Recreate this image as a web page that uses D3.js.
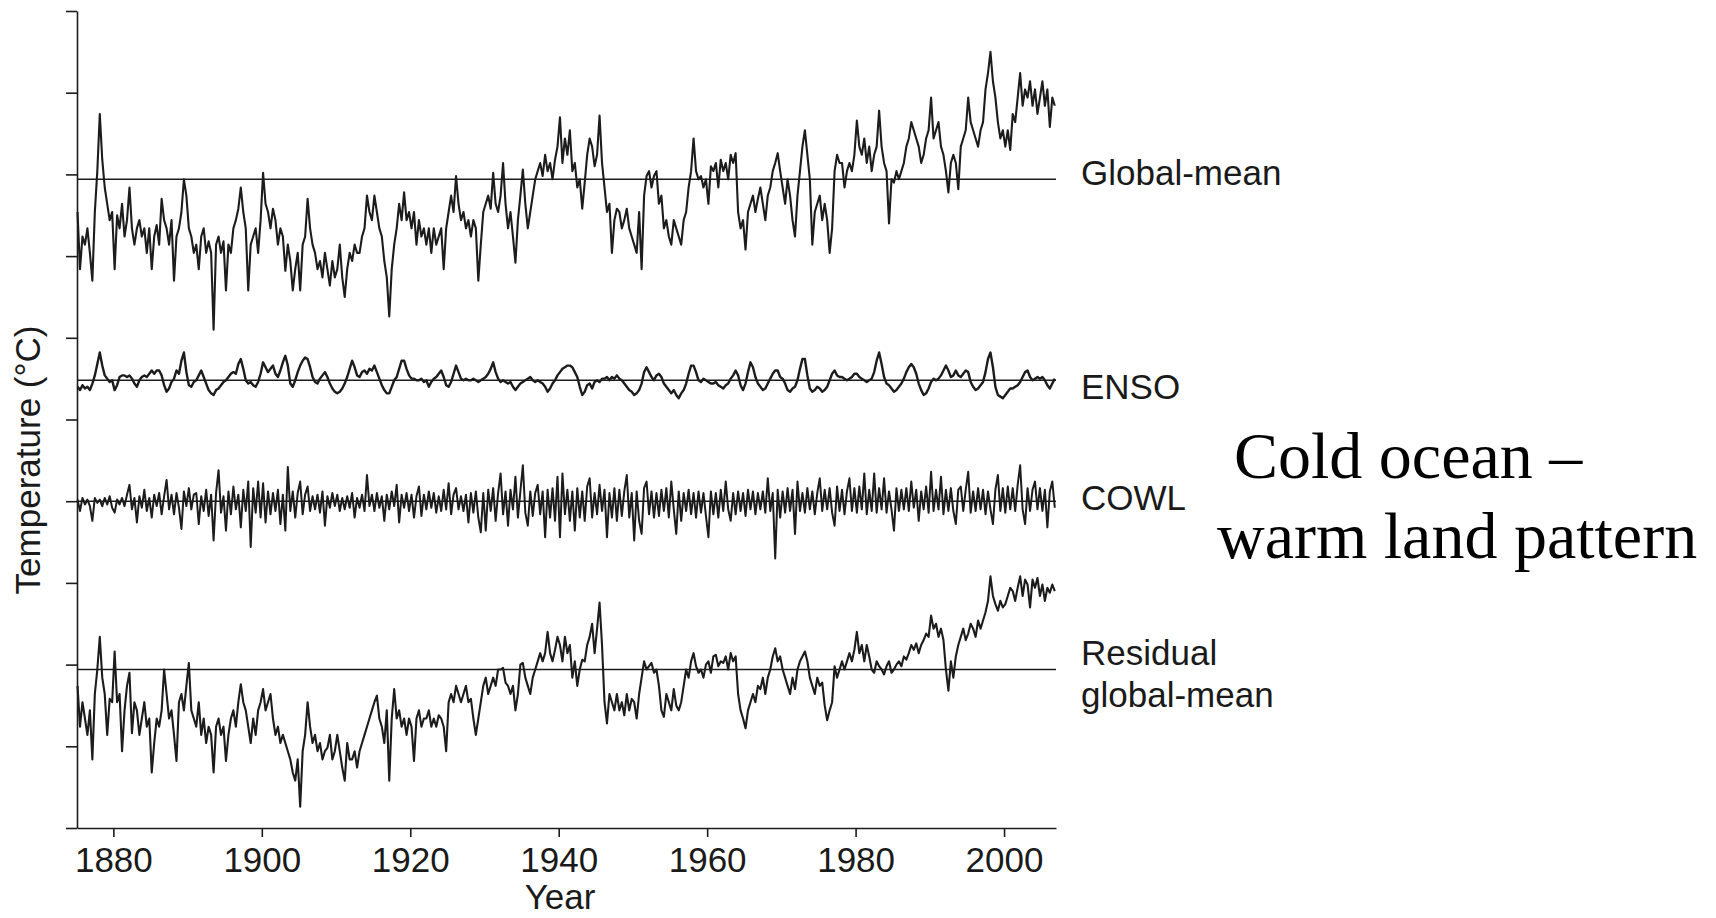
<!DOCTYPE html>
<html><head><meta charset="utf-8">
<script src="https://cdn.jsdelivr.net/npm/d3@7"></script>
<style>body{margin:0;background:#fff}svg{display:block}</style>
</head><body>
<svg id="chart" width="1716" height="918"></svg>
<script>
// x-axis tick labels (years)
const yearTicks = [1880, 1900, 1920, 1940, 1960, 1980, 2000];
// y-axis ticks (unlabelled), °C
const tempTicks = [0, 0.5, 1, 1.5, 2, 2.5, 3, 3.5, 4, 4.5, 5];
const seriesNames = ["Global-mean", "ENSO", "COWL", "Residual|global-mean"];
const startYear = 1875.17;   // first sample
const samplesPerYear = 3;
// vertical offset (°C) of each series' zero line
const seriesOffsets = [3.97, 2.74, 2.0, 0.97];

// anomalies (°C), 3 samples per year, 1875–2006
const globalMean = [
-0.20,-0.55,-0.35,-0.40,-0.30,-0.45,-0.62,-0.20,0.05,0.40,0.12,-0.05,-0.15,-0.25,-0.20,
-0.55,-0.22,-0.30,-0.15,-0.35,-0.25,-0.05,-0.30,-0.40,-0.30,-0.25,-0.35,-0.30,-0.45,-0.30,
-0.55,-0.35,-0.28,-0.40,-0.12,-0.25,-0.30,-0.40,-0.25,-0.62,-0.35,-0.30,-0.20,0.00,-0.10,
-0.30,-0.35,-0.45,-0.40,-0.55,-0.35,-0.30,-0.45,-0.38,-0.45,-0.92,-0.40,-0.35,-0.45,-0.38,
-0.68,-0.40,-0.45,-0.30,-0.25,-0.18,-0.05,-0.20,-0.30,-0.68,-0.40,-0.35,-0.30,-0.45,-0.25,
0.04,-0.15,-0.20,-0.30,-0.18,-0.25,-0.40,-0.30,-0.35,-0.56,-0.40,-0.50,-0.68,-0.55,-0.45,
-0.68,-0.40,-0.35,-0.12,-0.30,-0.40,-0.45,-0.55,-0.50,-0.60,-0.45,-0.55,-0.65,-0.50,-0.60,
-0.55,-0.40,-0.60,-0.72,-0.55,-0.45,-0.50,-0.40,-0.45,-0.45,-0.35,-0.30,-0.10,-0.20,-0.25,
-0.10,-0.20,-0.30,-0.35,-0.50,-0.60,-0.84,-0.55,-0.40,-0.30,-0.15,-0.25,-0.08,-0.25,-0.20,
-0.30,-0.20,-0.40,-0.25,-0.35,-0.30,-0.40,-0.30,-0.45,-0.30,-0.40,-0.35,-0.30,-0.55,-0.30,
-0.20,-0.10,-0.20,0.02,-0.15,-0.25,-0.20,-0.30,-0.25,-0.35,-0.25,-0.30,-0.62,-0.40,-0.20,
-0.15,-0.10,-0.18,0.04,-0.15,-0.20,-0.10,0.10,-0.15,-0.30,-0.20,-0.35,-0.51,-0.25,-0.10,
0.06,-0.15,-0.30,-0.20,-0.10,0.00,0.05,0.10,0.02,0.15,0.05,0.10,0.00,0.12,0.20,
0.38,0.10,0.25,0.15,0.30,0.05,0.10,-0.05,0.00,-0.18,-0.02,0.15,0.25,0.20,0.08,
0.15,0.39,0.10,-0.05,-0.20,-0.15,-0.45,-0.25,-0.18,-0.20,-0.30,-0.25,-0.18,-0.30,-0.35,
-0.40,-0.45,-0.20,-0.55,-0.10,0.02,0.05,-0.05,0.02,0.05,-0.15,-0.10,-0.30,-0.25,-0.35,
-0.40,-0.25,-0.30,-0.35,-0.40,-0.25,-0.20,-0.05,0.05,0.25,0.05,0.00,0.02,-0.05,0.00,
-0.15,0.08,0.05,0.10,-0.05,0.12,0.05,0.10,0.00,0.15,0.10,0.16,-0.20,-0.30,-0.25,
-0.43,-0.20,-0.15,-0.10,-0.20,-0.12,-0.05,-0.15,-0.25,-0.10,-0.05,0.05,0.10,0.16,0.05,
-0.05,-0.15,0.00,-0.10,-0.25,-0.35,-0.10,0.05,0.20,0.30,0.15,0.00,-0.40,-0.20,-0.15,
-0.10,-0.25,-0.15,-0.25,-0.45,-0.30,0.05,0.15,0.10,0.10,-0.05,0.05,0.10,0.05,0.15,
0.36,0.20,0.15,0.25,0.10,0.20,0.05,0.15,0.20,0.42,0.20,0.10,0.05,-0.27,0.00,
-0.02,0.05,0.00,0.05,0.10,0.20,0.25,0.35,0.30,0.25,0.20,0.10,0.15,0.25,0.30,
0.50,0.25,0.30,0.35,0.20,0.15,0.05,-0.08,0.10,0.15,0.10,-0.06,0.20,0.25,0.30,
0.50,0.35,0.30,0.25,0.20,0.30,0.35,0.55,0.65,0.78,0.60,0.50,0.35,0.25,0.30,
0.20,0.30,0.18,0.40,0.35,0.50,0.65,0.45,0.55,0.50,0.60,0.45,0.55,0.40,0.50,
0.60,0.45,0.55,0.32,0.50,0.45
];

const enso = [
-0.04,-0.06,-0.03,-0.05,-0.04,-0.06,-0.02,0.03,0.10,0.17,0.09,0.03,0.01,-0.01,0.00,
-0.06,-0.03,0.02,0.03,0.03,0.02,0.03,0.01,-0.02,-0.04,0.00,0.02,0.03,0.02,0.04,
0.06,0.04,0.06,0.06,0.03,-0.03,-0.07,-0.05,-0.01,0.01,0.06,0.04,0.12,0.17,0.05,
-0.03,-0.04,-0.01,0.00,0.03,0.06,0.02,-0.02,-0.06,-0.08,-0.09,-0.06,-0.05,-0.03,-0.01,
0.00,0.02,0.04,0.05,0.04,0.10,0.13,0.07,0.00,-0.02,-0.01,-0.03,-0.04,-0.01,0.04,
0.11,0.08,0.05,0.07,0.09,0.04,0.02,0.06,0.11,0.15,0.09,-0.02,-0.04,0.00,0.05,
0.09,0.12,0.14,0.13,0.08,0.02,-0.01,-0.02,0.01,0.03,0.05,0.02,-0.02,-0.05,-0.07,
-0.08,-0.07,-0.05,-0.02,0.02,0.07,0.12,0.08,0.03,0.02,0.05,0.06,0.04,0.07,0.06,
0.09,0.05,0.01,-0.03,-0.06,-0.08,-0.08,-0.04,0.00,0.02,0.07,0.12,0.12,0.07,0.03,
0.01,0.01,0.00,0.00,0.01,-0.01,0.00,-0.04,-0.01,0.01,0.02,0.04,0.06,0.02,-0.03,
-0.04,-0.01,0.04,0.09,0.05,0.01,0.00,0.01,0.00,0.00,0.01,0.00,-0.01,0.00,0.01,
0.02,0.04,0.07,0.11,0.05,0.01,-0.01,0.00,-0.01,-0.02,-0.01,-0.04,-0.06,-0.04,-0.02,
-0.01,0.00,0.01,0.02,0.00,-0.01,0.00,-0.01,-0.02,-0.04,-0.07,-0.05,-0.02,0.00,0.03,
0.05,0.07,0.08,0.09,0.09,0.08,0.05,0.02,-0.04,-0.09,-0.07,-0.03,-0.02,-0.05,-0.01,
0.00,-0.01,0.01,0.01,0.02,0.00,0.02,0.01,0.03,0.01,0.00,-0.02,-0.04,-0.06,-0.07,
-0.09,-0.08,-0.06,-0.02,0.05,0.08,0.05,0.02,0.00,0.03,0.04,0.02,-0.02,-0.04,-0.06,
-0.08,-0.06,-0.09,-0.11,-0.08,-0.06,-0.02,0.04,0.09,0.09,0.05,0.00,-0.01,0.01,0.00,
-0.01,-0.02,-0.02,-0.01,-0.03,-0.04,-0.05,-0.03,-0.02,0.01,0.03,0.06,0.03,-0.03,-0.06,
-0.02,0.05,0.11,0.08,0.02,-0.02,-0.04,-0.06,-0.05,-0.02,0.01,0.04,0.06,0.06,0.02,
0.01,-0.02,-0.06,-0.07,-0.05,-0.04,0.00,0.07,0.13,0.13,0.03,-0.05,-0.07,-0.06,-0.04,
-0.05,-0.07,-0.06,-0.04,0.00,0.04,0.06,0.03,0.02,0.02,0.01,0.00,0.01,0.02,0.04,
0.04,0.02,0.01,0.00,-0.01,0.00,0.01,0.05,0.12,0.17,0.10,0.02,-0.02,-0.03,-0.05,
-0.07,-0.06,-0.04,-0.02,0.01,0.05,0.08,0.10,0.08,0.04,-0.02,-0.06,-0.09,-0.08,-0.05,
-0.01,0.01,0.00,0.01,0.03,0.06,0.09,0.06,0.02,0.03,0.06,0.03,0.02,0.04,0.06,
0.05,-0.01,-0.04,-0.06,-0.05,-0.03,-0.01,0.05,0.13,0.17,0.08,-0.04,-0.09,-0.10,-0.11,
-0.09,-0.07,-0.05,-0.05,-0.04,-0.03,-0.01,0.02,0.05,0.06,0.02,0.00,0.01,0.02,0.01,
0.02,0.00,-0.03,-0.05,-0.02,0.01
];

const cowl = [
0.01,-0.06,0.02,-0.02,0.01,-0.03,-0.12,0.02,-0.01,0.01,-0.03,0.02,-0.02,0.03,-0.04,
-0.07,0.01,-0.02,0.02,-0.03,0.04,0.10,-0.05,0.02,-0.13,0.03,-0.04,0.07,-0.06,0.02,
-0.10,0.04,-0.03,0.05,-0.08,0.03,0.13,-0.05,0.04,-0.08,0.05,-0.04,-0.17,0.06,-0.03,
0.08,-0.05,0.04,0.05,-0.14,0.03,-0.06,0.07,-0.09,0.04,-0.24,0.05,0.19,-0.07,0.03,
-0.18,0.06,-0.08,0.09,-0.05,0.04,-0.16,0.07,-0.06,0.12,-0.28,0.08,-0.07,0.12,-0.10,
0.11,-0.13,0.06,-0.08,0.05,-0.06,0.07,-0.14,0.04,-0.18,0.21,-0.06,0.06,-0.10,0.05,
0.12,-0.08,0.04,0.09,-0.06,0.03,-0.05,0.04,-0.07,0.06,-0.15,0.03,-0.04,0.05,-0.03,
0.04,-0.06,0.02,-0.05,0.03,-0.04,0.05,-0.10,0.02,-0.04,0.04,-0.06,0.16,-0.03,0.04,
-0.06,0.05,-0.04,0.03,-0.12,0.04,-0.05,0.06,-0.03,0.10,-0.13,0.04,-0.04,0.05,-0.06,
0.04,-0.10,0.03,0.09,-0.09,0.04,-0.05,0.06,-0.04,0.05,-0.07,0.03,-0.06,0.07,-0.05,
0.11,-0.08,0.04,0.08,-0.05,0.03,-0.06,0.04,-0.13,0.05,-0.07,0.06,-0.10,-0.19,0.05,
-0.18,0.07,-0.06,0.08,-0.12,0.05,0.17,-0.08,0.06,-0.15,0.07,-0.05,0.15,-0.10,0.06,
0.22,-0.07,-0.15,0.06,-0.09,0.05,0.10,-0.08,0.06,-0.22,0.07,-0.10,0.08,-0.12,0.15,
-0.22,0.17,-0.08,0.07,-0.12,0.06,-0.18,0.08,-0.10,0.06,-0.12,0.09,0.14,-0.10,0.05,
-0.08,0.10,-0.06,0.07,-0.22,0.05,-0.10,0.08,-0.12,0.07,-0.09,0.06,0.16,-0.10,0.05,
-0.24,0.06,-0.12,-0.20,0.08,0.12,-0.08,0.06,-0.10,0.05,-0.09,0.07,-0.06,0.08,-0.10,
0.12,-0.05,-0.20,0.06,-0.12,0.05,-0.06,0.07,-0.08,0.05,-0.10,0.06,-0.07,0.05,-0.09,
-0.22,0.06,-0.08,0.05,-0.10,0.07,-0.06,0.12,-0.05,-0.12,0.05,-0.08,0.06,-0.06,0.05,
-0.09,0.07,-0.05,0.06,-0.08,0.05,-0.05,0.06,-0.07,0.14,-0.06,0.05,-0.35,0.07,-0.10,
0.06,-0.07,0.08,-0.06,0.07,-0.20,0.12,-0.06,0.05,-0.07,0.08,-0.05,0.06,-0.08,0.05,
0.14,-0.06,0.07,-0.05,0.08,-0.07,-0.15,0.09,-0.06,0.07,-0.08,0.06,0.14,-0.06,0.08,
-0.07,0.09,-0.05,0.17,-0.08,0.07,-0.06,0.17,-0.07,0.08,-0.05,0.14,-0.07,0.06,-0.05,
-0.18,0.08,-0.06,0.07,-0.05,0.08,-0.06,0.12,-0.04,0.07,-0.12,0.06,-0.05,0.09,-0.07,
0.18,-0.06,0.07,-0.05,0.15,-0.08,0.07,-0.06,0.08,-0.06,-0.14,0.07,0.09,-0.06,0.07,
0.18,-0.07,0.06,-0.06,0.08,-0.05,0.07,-0.08,0.06,-0.05,-0.14,0.07,0.16,-0.06,0.08,
-0.07,0.09,-0.05,0.08,-0.06,0.10,0.22,-0.05,-0.14,0.08,-0.06,0.07,0.12,-0.05,0.08,
-0.06,0.07,-0.16,0.06,0.12,-0.04
];

const residual = [
-0.10,-0.35,-0.20,-0.30,-0.40,-0.25,-0.55,-0.15,0.00,0.20,-0.05,-0.15,-0.40,-0.18,-0.20,
0.11,-0.20,-0.15,-0.50,-0.25,-0.10,-0.02,-0.39,-0.20,-0.25,-0.40,-0.30,-0.20,-0.35,-0.30,
-0.63,-0.45,-0.30,-0.35,-0.25,0.00,-0.15,-0.30,-0.25,-0.40,-0.56,-0.20,-0.15,-0.25,-0.10,
0.04,-0.25,-0.30,-0.35,-0.20,-0.40,-0.30,-0.45,-0.35,-0.40,-0.63,-0.35,-0.30,-0.40,-0.35,
-0.56,-0.40,-0.30,-0.25,-0.35,-0.20,-0.09,-0.20,-0.25,-0.35,-0.45,-0.30,-0.40,-0.25,-0.20,
-0.12,-0.25,-0.20,-0.15,-0.30,-0.40,-0.35,-0.45,-0.40,-0.45,-0.50,-0.55,-0.63,-0.68,-0.55,
-0.84,-0.50,-0.40,-0.20,-0.35,-0.45,-0.40,-0.50,-0.45,-0.55,-0.50,-0.48,-0.40,-0.55,-0.50,
-0.40,-0.50,-0.60,-0.68,-0.45,-0.55,-0.55,-0.50,-0.60,-0.50,-0.45,-0.40,-0.35,-0.30,-0.25,
-0.20,-0.16,-0.30,-0.35,-0.45,-0.25,-0.68,-0.30,-0.12,-0.30,-0.25,-0.35,-0.30,-0.40,-0.30,
-0.35,-0.56,-0.30,-0.25,-0.35,-0.30,-0.30,-0.25,-0.35,-0.30,-0.35,-0.28,-0.30,-0.35,-0.50,
-0.20,-0.15,-0.20,-0.10,-0.15,-0.20,-0.15,-0.10,-0.20,-0.18,-0.30,-0.40,-0.30,-0.20,-0.10,
-0.05,-0.15,-0.10,-0.05,-0.10,0.00,0.00,0.01,-0.08,-0.10,-0.15,-0.10,-0.25,-0.15,0.03,
0.04,-0.05,-0.10,-0.15,-0.05,0.00,0.05,0.10,0.05,0.10,0.23,0.10,0.05,0.12,0.20,
0.15,0.05,0.20,0.10,0.15,-0.05,0.05,-0.10,0.00,0.06,0.05,0.15,0.20,0.28,0.10,
0.25,0.41,0.15,-0.20,-0.33,-0.15,-0.20,-0.25,-0.15,-0.25,-0.20,-0.28,-0.15,-0.25,-0.18,
-0.20,-0.30,-0.15,-0.05,0.05,0.00,0.02,0.04,-0.02,0.00,-0.10,-0.25,-0.29,-0.15,-0.20,
-0.25,-0.12,-0.22,-0.25,-0.20,-0.10,0.00,-0.05,0.05,0.10,0.02,-0.02,0.00,-0.05,0.03,
0.05,-0.02,0.08,0.09,0.02,0.05,0.04,0.08,0.00,0.10,0.05,0.08,-0.15,-0.25,-0.30,
-0.36,-0.25,-0.20,-0.15,-0.20,-0.10,-0.12,-0.05,-0.15,-0.05,0.00,0.08,0.13,0.05,0.08,
0.00,-0.05,-0.10,-0.15,-0.05,-0.12,0.00,0.05,0.08,0.11,0.05,-0.05,-0.10,-0.15,-0.05,
-0.10,-0.08,-0.22,-0.31,-0.25,-0.20,0.02,-0.05,0.00,0.05,0.00,0.05,0.10,0.05,0.12,
0.23,0.10,0.15,0.05,0.15,0.08,0.00,-0.02,0.05,0.02,0.00,-0.03,0.02,0.05,-0.02,
0.00,0.03,0.05,0.02,0.08,0.06,0.10,0.15,0.12,0.16,0.10,0.15,0.18,0.22,0.20,
0.33,0.25,0.28,0.20,0.25,0.18,0.00,-0.13,0.05,-0.05,0.08,0.15,0.20,0.25,0.18,
0.22,0.28,0.25,0.20,0.30,0.25,0.30,0.35,0.42,0.57,0.45,0.40,0.36,0.42,0.38,
0.40,0.45,0.50,0.48,0.42,0.50,0.57,0.45,0.55,0.52,0.38,0.55,0.50,0.56,0.45,
0.52,0.42,0.50,0.47,0.52,0.48
];

const seriesData = [globalMean, enso, cowl, residual];

const svg = d3.select("#chart");
const x = d3.scaleLinear().domain([1875.1, 2007.0]).range([77, 1056]);
const y = d3.scaleLinear().domain([0, 5]).range([828, 11]);
const ink = "#1c1c1c";
const sans = "'Liberation Sans', Arial, Helvetica, sans-serif";

// zero lines
svg.append("g").selectAll("line").data(seriesOffsets).join("line")
  .attr("x1", x.range()[0]).attr("x2", x.range()[1])
  .attr("y1", d => y(d)).attr("y2", d => y(d))
  .attr("stroke", ink).attr("stroke-width", 1.6);

// series
const tOf = i => startYear + i / samplesPerYear;
const widths = [2.1, 2.4, 2.0, 2.1];
seriesData.forEach((vals, k) => {
  const line = d3.line().x((d, i) => x(tOf(i))).y(d => y(seriesOffsets[k] + d));
  svg.append("path").datum(vals).attr("d", line)
    .attr("fill", "none").attr("stroke", ink)
    .attr("stroke-width", widths[k]).attr("stroke-linejoin", "round");
});

// axes
const yAxis = svg.append("g").attr("transform", `translate(${x.range()[0]},0)`)
  .call(d3.axisLeft(y).tickValues(tempTicks).tickFormat("").tickSize(11).tickSizeOuter(0));
const xAxis = svg.append("g").attr("transform", `translate(0,${y.range()[0]})`)
  .call(d3.axisBottom(x).tickValues(yearTicks).tickFormat(d3.format("d")).tickSize(9).tickSizeOuter(0).tickPadding(10));
[yAxis, xAxis].forEach(g => {
  g.selectAll("path,line").attr("stroke", ink).attr("stroke-width", 1.6);
  g.selectAll("text").attr("font-family", sans).attr("font-size", 35).attr("fill", "#1a1a1a");
});

// axis titles
svg.append("text").attr("x", 560).attr("y", 909).attr("text-anchor", "middle")
  .attr("font-family", sans).attr("font-size", 35).attr("fill", "#1a1a1a").text("Year");
svg.append("text").attr("transform", "translate(40,460) rotate(-90)").attr("text-anchor", "middle")
  .attr("font-family", sans).attr("font-size", 35).attr("fill", "#1a1a1a").text("Temperature (°C)");

// series labels
const labelDy = [6, 19, 9, -5];
seriesNames.forEach((name, k) => {
  const t = svg.append("text").attr("x", 1081).attr("y", y(seriesOffsets[k]) + labelDy[k])
    .attr("font-family", sans).attr("font-size", 35).attr("fill", "#1a1a1a");
  name.split("|").forEach((part, j) => t.append("tspan").attr("x", 1081).attr("dy", j ? 42 : 0).text(part));
});

// annotation
const serif = "'Liberation Serif', 'Times New Roman', Times, serif";
const note = svg.append("text").attr("font-family", serif).attr("font-size", 66).attr("fill", "#000");
note.append("tspan").attr("x", 1234).attr("y", 478).text("Cold ocean –");
note.append("tspan").attr("x", 1217).attr("y", 558).text("warm land pattern");
</script>
</body></html>
